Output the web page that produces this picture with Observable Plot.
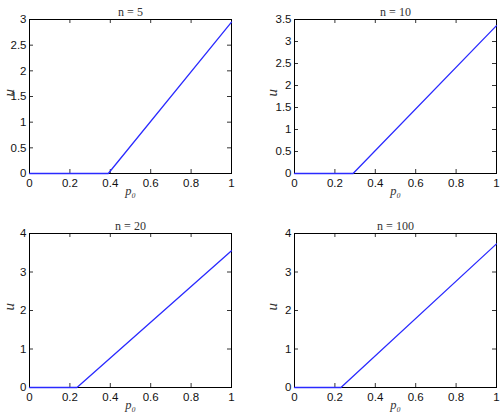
<!DOCTYPE html>
<html><head><meta charset="utf-8">
<script src="https://cdn.jsdelivr.net/npm/d3@7"></script>
<script src="https://cdn.jsdelivr.net/npm/@observablehq/plot@0.6"></script>
<style>
body{margin:0;background:#fff;}
#wrap{position:relative;width:501px;height:417px;background:#fff;}
#wrap > div{position:absolute;}
</style></head><body><div id="wrap"></div>
<script>
const titles = ["n = 5", "n = 10", "n = 20", "n = 100"];
const p5 = [0, 0.39, 1];   const u5 = [0, 0, 2.95];
const p10 = [0, 0.29, 1];  const u10 = [0, 0, 3.36];
const p20 = [0, 0.235, 1]; const u20 = [0, 0, 3.55];
const p100 = [0, 0.23, 1]; const u100 = [0, 0, 3.73];
const xTicks = [0, 0.2, 0.4, 0.6, 0.8, 1];
const yTicksA = [0, 0.5, 1, 1.5, 2, 2.5, 3];
const yTicksB = [0, 0.5, 1, 1.5, 2, 2.5, 3, 3.5];
const yTicksC = [0, 1, 2, 3, 4];
const yMax = [3, 3.5, 4, 4];

const series = [[p5,u5],[p10,u10],[p20,u20],[p100,u100]];
const yTickSets = [yTicksA, yTicksB, yTicksC, yTicksC];
const layout = [
  {left:0, top:0, w:250, h:208, ml:29, mr:19, mt:19, mb:35, ydx:-20},
  {left:250, top:0, w:251, h:208, ml:44, mr:5, mt:19, mb:35, ydx:-22},
  {left:0, top:210, w:250, h:207, ml:29, mr:19, mt:23, mb:30, ydx:-20},
  {left:250, top:210, w:251, h:207, ml:44, mr:5, mt:23, mb:30, ydx:-22}
];
const wrap = document.getElementById("wrap");
series.forEach(([ps, us], i) => {
  const L = layout[i];
  const fw = L.w - L.ml - L.mr, fh = L.h - L.mt - L.mb;
  const data = ps.map((p, j) => ({p, u: us[j]}));
  const tk = 4;
  const chart = Plot.plot({
    width: L.w, height: L.h,
    marginLeft: L.ml, marginRight: L.mr, marginTop: L.mt, marginBottom: L.mb,
    style: {fontFamily: "'Liberation Sans', Arial, sans-serif", fontSize: "11.5px", background: "#fff", color: "#000"},
    x: {domain: [0, 1]},
    y: {domain: [0, yMax[i]]},
    marks: [
      Plot.axisX(xTicks, {tickSize: 0, tickPadding: 5, label: null, tickFormat: d => String(d), fontSize: 11.5, fill: "#111"}),
      Plot.axisY(yTickSets[i], {tickSize: 0, tickPadding: 3, label: null, tickFormat: d => String(d), fontSize: 11.5, fill: "#111"}),
      Plot.tickX(xTicks, {x: d => d, insetTop: fh - tk, stroke: "#000", strokeWidth: 0.8}),
      Plot.tickX(xTicks, {x: d => d, insetBottom: fh - tk, stroke: "#000", strokeWidth: 0.8}),
      Plot.tickY(yTickSets[i], {y: d => d, insetRight: fw - tk, stroke: "#000", strokeWidth: 0.8}),
      Plot.tickY(yTickSets[i], {y: d => d, insetLeft: fw - tk, stroke: "#000", strokeWidth: 0.8}),
      Plot.frame({stroke: "#000", strokeWidth: 1}),
      Plot.line(data, {x: "p", y: "u", stroke: "#2a2aff", strokeWidth: 1.3}),
      Plot.text([titles[i]], {frameAnchor: "top", dy: -12, text: d => d, fontFamily: "'Liberation Serif', 'Times New Roman', serif", fontSize: 12, fill: "#333"}),
      Plot.text(["p\u2080"], {frameAnchor: "bottom", dy: 21, text: d => d, fontFamily: "'Liberation Serif', serif", fontStyle: "italic", fontSize: 12.5, fill: "#333"}),
      Plot.text(["u"], {frameAnchor: "left", dx: L.ydx, rotate: -90, text: d => d, fontFamily: "'Liberation Serif', serif", fontStyle: "italic", fontSize: 15, fill: "#333"})
    ]
  });
  const div = document.createElement("div");
  div.style.left = L.left + "px"; div.style.top = L.top + "px";
  div.appendChild(chart);
  wrap.appendChild(div);
});
</script></body></html>
